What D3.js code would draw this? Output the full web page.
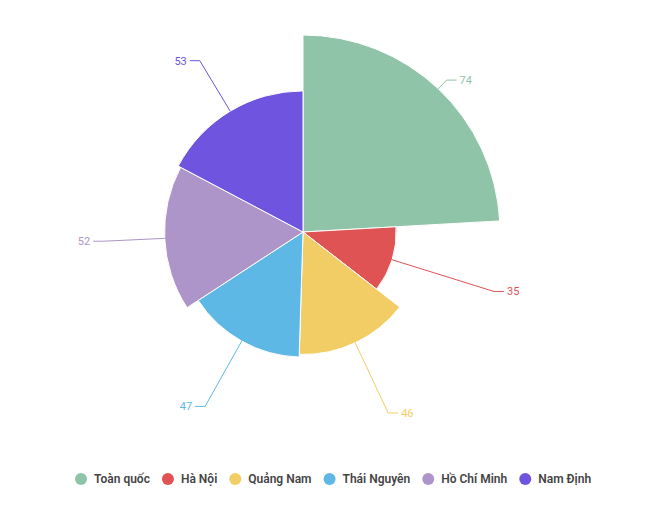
<!DOCTYPE html>
<html><head><meta charset="utf-8">
<script src="https://cdn.jsdelivr.net/npm/d3@7"></script>
<style>body{margin:0;background:#fff;font-family:Roboto,"Noto Sans",sans-serif}</style>
</head><body>
<svg id="c" width="660" height="530"></svg>
<script>
const categories = ["Toàn quốc", "Hà Nội", "Quảng Nam", "Thái Nguyên", "Hồ Chí Minh", "Nam Định"]
const values = [74, 35, 46, 47, 52, 53]
const colors = ["#8fc4a8", "#e05355", "#f2cd66", "#5db8e6", "#ad94c9", "#6e54df"]

const svg = d3.select("#c")
const cx = 303, cy = 232
const r = d3.scaleLinear().domain([0, d3.max(values)]).range([0, 197])
const pie = d3.pie().sort(null).value(d => d)
const arcs = pie(values)
const g = svg.append("g").attr("transform", `translate(${cx},${cy})`)

g.selectAll("path").data(arcs).enter().append("path")
  .attr("d", d => d3.arc().innerRadius(0).outerRadius(r(d.data))(d))
  .attr("fill", (d, i) => colors[i])
  .attr("stroke", "#fff").attr("stroke-width", 1)

arcs.forEach((d, i) => {
  const a = (d.startAngle + d.endAngle) / 2
  const sx = Math.sin(a), sy = -Math.cos(a)
  const r1 = r(d.data), r2 = Math.max(r1 + 12, 200)
  const p1 = [sx * r1, sy * r1], p2 = [sx * r2, sy * r2]
  const dir = sx >= 0 ? 1 : -1
  const p3 = [p2[0] + dir * 10, p2[1]]
  g.append("polyline").attr("points", [p1, p2, p3].map(p => p.join(",")).join(" "))
    .attr("fill", "none").attr("stroke", colors[i])
  g.append("text").attr("x", p3[0] + dir * 3).attr("y", p3[1])
    .attr("dy", "0.35em").attr("text-anchor", dir > 0 ? "start" : "end")
    .attr("font-size", 11).attr("fill", colors[i]).text(d.data)
})

const legend = svg.append("g").attr("font-size", 12).attr("font-weight", 600).attr("fill", "#444")
let x = 75
categories.forEach((c, i) => {
  legend.append("circle").attr("cx", x + 6).attr("cy", 479).attr("r", 6).attr("fill", colors[i])
  const t = legend.append("text").attr("x", x + 19).attr("y", 479).attr("dy", "0.35em").text(c)
  x += 19 + t.node().getComputedTextLength() + 12
})
</script>
</body></html>
